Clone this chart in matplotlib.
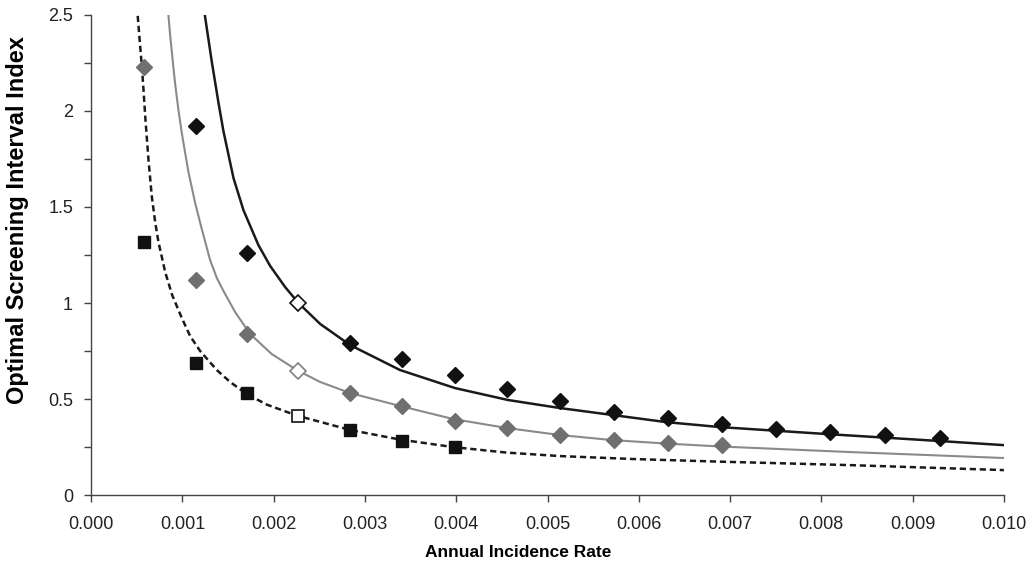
import numpy as np
import matplotlib.pyplot as plt
from matplotlib.ticker import MultipleLocator, FormatStrFormatter

plt.rcParams['font.family'] = ['Liberation Sans', 'DejaVu Sans']

# -----------------------------
# Data
# -----------------------------
# fitted curves
black_curve_x = [0.001245, 0.001322, 0.001394, 0.001449, 0.001559, 0.001668, 0.001832,
                 0.001961, 0.002125, 0.002271, 0.002509, 0.002837, 0.003384, 0.003987,
                 0.004567, 0.005137, 0.006298, 0.006889, 0.008050, 0.009310, 0.010000]
black_curve_y = [2.50, 2.255, 2.045, 1.895, 1.651, 1.484, 1.302,
                 1.193, 1.083, 1.000, 0.891, 0.781, 0.651, 0.557,
                 0.495, 0.453, 0.380, 0.354, 0.318, 0.281, 0.260]

gray_curve_x = [0.000847, 0.000865, 0.000895, 0.000920, 0.000956, 0.000993, 0.001030,
                0.001066, 0.001139, 0.001212, 0.001303, 0.001377, 0.001449, 0.001577,
                0.001741, 0.001979, 0.002253, 0.002508, 0.002837, 0.003384, 0.003965,
                0.004556, 0.005137, 0.005717, 0.006309, 0.006889, 0.008313, 0.010000]
gray_curve_y = [2.495, 2.396, 2.255, 2.141, 2.005, 1.885, 1.781,
                1.682, 1.521, 1.385, 1.224, 1.130, 1.063, 0.953,
                0.839, 0.734, 0.651, 0.589, 0.531, 0.464, 0.396,
                0.349, 0.3125, 0.286, 0.268, 0.253, 0.224, 0.193]

dashed_curve_x = [0.000510, 0.000531, 0.000555, 0.000575, 0.000591, 0.000628, 0.000665,
                  0.000701, 0.000737, 0.000811, 0.000887, 0.000993, 0.001084, 0.001194,
                  0.001377, 0.001522, 0.001705, 0.001924, 0.002253, 0.002837, 0.003384,
                  0.003965, 0.004556, 0.005137, 0.005947, 0.006889, 0.008313, 0.010000]
dashed_curve_y = [2.495, 2.370, 2.234, 2.099, 1.979, 1.745, 1.552,
                  1.422, 1.318, 1.161, 1.042, 0.922, 0.828, 0.750,
                  0.651, 0.589, 0.526, 0.471, 0.414, 0.339, 0.289,
                  0.250, 0.221, 0.203, 0.1875, 0.174, 0.156, 0.130]

# simulated points
black_pts_x = [0.00115, 0.00171, 0.00284, 0.00341, 0.00399, 0.00456, 0.00514, 0.00573,
               0.00632, 0.00691, 0.00750, 0.00810, 0.00870, 0.00930]
black_pts_y = [1.92, 1.26, 0.79, 0.71, 0.625, 0.55, 0.49, 0.43,
               0.40, 0.37, 0.342, 0.33, 0.3125, 0.295]

gray_pts_x = [0.00058, 0.00115, 0.00171, 0.00284, 0.00341, 0.00399, 0.00456, 0.00514,
              0.00573, 0.00632, 0.00691]
gray_pts_y = [2.23, 1.12, 0.837, 0.533, 0.463, 0.385, 0.347, 0.3125,
              0.286, 0.269, 0.26]

square_pts_x = [0.00058, 0.00115, 0.00171, 0.00284, 0.00341, 0.00399]
square_pts_y = [1.32, 0.686, 0.533, 0.339, 0.283, 0.252]

# highlighted (open) points
open_x = 0.00227
open_black_y = 1.0
open_gray_y = 0.647
open_square_y = 0.413

# -----------------------------
# Plot
# -----------------------------
fig = plt.figure(figsize=(10.36, 5.73), dpi=100)
ax = fig.add_axes([0.088, 0.136, 0.881, 0.838])

ax.plot(black_curve_x, black_curve_y, color='#1a1a1a', lw=1.8, zorder=2)
ax.plot(gray_curve_x, gray_curve_y, color='#8a8a8a', lw=1.5, zorder=2)
ax.plot(dashed_curve_x, dashed_curve_y, color='#1a1a1a', lw=1.8, ls=(0, (2.5, 1.5)), zorder=2)

ax.plot(black_pts_x, black_pts_y, 'D', color='#111111', ms=8.5, zorder=3)
ax.plot(gray_pts_x, gray_pts_y, 'D', color='#707070', ms=8.5, zorder=3)
ax.plot(square_pts_x, square_pts_y, 's', color='#111111', ms=8, zorder=3)

ax.plot(open_x, open_black_y, 'D', mfc='white', mec='#111111', mew=1.2, ms=8.5, zorder=4)
ax.plot(open_x, open_gray_y, 'D', mfc='white', mec='#808080', mew=1.2, ms=8.5, zorder=4)
ax.plot(open_x, open_square_y, 's', mfc='white', mec='#111111', mew=1.2, ms=8, zorder=4)

ax.set_xlim(0, 0.010)
ax.set_ylim(0, 2.5)
ax.xaxis.set_major_locator(MultipleLocator(0.001))
ax.xaxis.set_major_formatter(FormatStrFormatter('%.3f'))
ax.yaxis.set_major_locator(MultipleLocator(0.5))
ax.yaxis.set_minor_locator(MultipleLocator(0.25))
ax.yaxis.set_major_formatter(FormatStrFormatter('%g'))

for side in ['top', 'right']:
    ax.spines[side].set_visible(False)
for side in ['left', 'bottom']:
    ax.spines[side].set_color('#444444')
    ax.spines[side].set_linewidth(1.0)

ax.tick_params(axis='both', which='both', direction='out', length=5, width=1,
               color='#444444', labelsize=13, labelcolor='#222222')
ax.tick_params(axis='x', pad=10)
ax.tick_params(axis='y', pad=8)

ax.set_xlabel('Annual Incidence Rate', fontsize=12.5, fontweight='bold')
ax.set_ylabel('Optimal Screening Interval Index', fontsize=17, fontweight='bold')
ax.xaxis.set_label_coords(0.468, -0.103)
ax.yaxis.set_label_coords(-0.068, 0.573)

fig.savefig('out.png', dpi=100)
